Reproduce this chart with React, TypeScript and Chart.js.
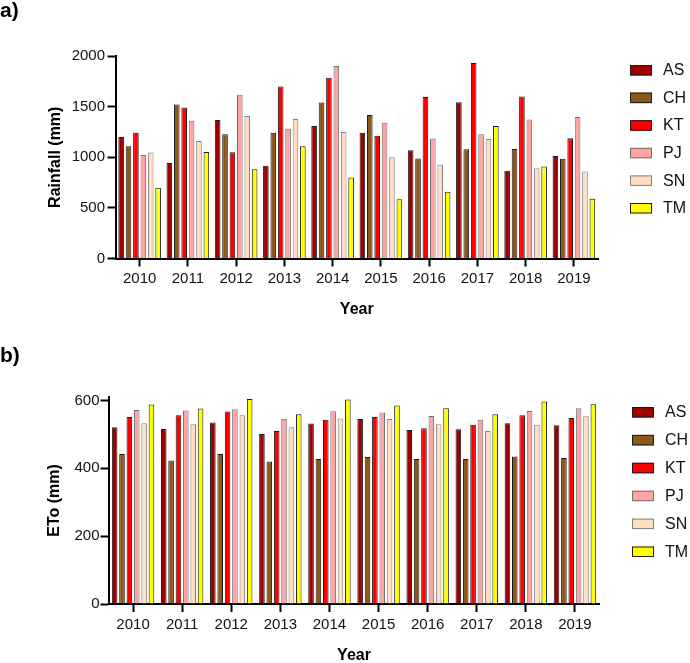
import React, { useEffect, useRef } from "react";
import { Chart, registerables } from "chart.js";

Chart.register(...registerables);

const years = ["2010", "2011", "2012", "2013", "2014", "2015", "2016", "2017", "2018", "2019"];
const stations = ["AS", "CH", "KT", "PJ", "SN", "TM"];

const rainAS = [1200, 944, 1367, 915, 1308, 1243, 1069, 1544, 866, 1013];
const rainCH = [1108, 1521, 1226, 1243, 1541, 1417, 987, 1079, 1082, 984];
const rainKT = [1243, 1492, 1049, 1699, 1784, 1213, 1594, 1931, 1600, 1187];
const rainPJ = [1023, 1361, 1617, 1282, 1902, 1341, 1184, 1226, 1374, 1397];
const rainSN = [1046, 1161, 1407, 1377, 1249, 1000, 925, 1180, 892, 859];
const rainTM = [698, 1053, 882, 1108, 800, 584, 659, 1308, 908, 590];

const etoAS = [521, 516, 535, 501, 532, 545, 513, 515, 533, 527];
const etoCH = [442, 423, 442, 420, 427, 433, 427, 427, 435, 430];
const etoKT = [551, 556, 567, 510, 543, 551, 518, 528, 556, 548];
const etoPJ = [572, 570, 574, 546, 568, 564, 554, 543, 569, 577];
const etoSN = [533, 530, 556, 521, 547, 545, 530, 510, 528, 553];
const etoTM = [588, 576, 604, 559, 603, 585, 577, 559, 597, 589];

const rainTicks = [0, 500, 1000, 1500, 2000];
const etoTicks = [0, 200, 400, 600];

const fillColors = ["#9E0000", "#8B5A1B", "#FF0000", "#FFA3A3", "#FFDEC2", "#FFFF00"];
const edgeColors = ["#1a1a1a", "#1a1a1a", "#1a1a1a", "#707070", "#808080", "#1a1a1a"];

const FONT = "'Liberation Sans', Arial, Helvetica, sans-serif";

const customLegend = {
  id: "customLegend",
  afterDraw(chart: any, _args: any, opts: any) {
    const ctx = chart.ctx;
    ctx.save();
    ctx.font = `${opts.fontSize}px ${FONT}`;
    ctx.textBaseline = "middle";
    ctx.textAlign = "left";
    chart.data.datasets.forEach((ds: any, i: number) => {
      const y = opts.top + i * opts.step;
      ctx.fillStyle = ds.backgroundColor;
      ctx.fillRect(opts.x, y, opts.boxW, opts.boxH);
      ctx.lineWidth = 1;
      ctx.strokeStyle = ds.borderColor;
      ctx.strokeRect(opts.x + 0.5, y + 0.5, opts.boxW - 1, opts.boxH - 1);
      ctx.fillStyle = "#111";
      ctx.fillText(ds.label, opts.textX, y + opts.boxH / 2 + 0.5);
    });
    ctx.restore();
  },
};

function makeConfig(p: any) {
  return {
    type: "bar",
    data: {
      labels: years,
      datasets: p.series.map((vals: number[], i: number) => ({
        label: stations[i],
        data: vals,
        backgroundColor: fillColors[i],
        borderColor: edgeColors[i],
        borderWidth: 1,
        borderSkipped: "start",
        categoryPercentage: p.catPct,
        barPercentage: p.barPct,
      })),
    },
    options: {
      responsive: false,
      animation: false,
      devicePixelRatio: 1,
      layout: { padding: { left: 0, top: 0, right: p.padRight, bottom: 0 } },
      plugins: {
        legend: { display: false },
        tooltip: { enabled: false },
        title: {
          display: true,
          text: p.panel,
          align: "start",
          color: "#000",
          font: { family: FONT, size: 21, weight: "bold", lineHeight: 1.1 },
          padding: { top: p.titleTop, bottom: p.titleBottom },
        },
        customLegend: p.legend,
      },
      scales: {
        x: {
          type: "category",
          offset: true,
          afterFit: (s: any) => {
            s.height = p.xHeight;
          },
          border: { display: true, color: "#000", width: 2 },
          grid: {
            display: true,
            offset: false,
            drawOnChartArea: false,
            drawTicks: true,
            tickLength: p.tickLen,
            tickColor: "#000",
            tickWidth: 2,
          },
          ticks: {
            color: "#111",
            padding: p.xTickPad,
            maxRotation: 0,
            autoSkip: false,
            font: { family: FONT, size: 15 },
          },
          title: {
            display: true,
            text: "Year",
            color: "#000",
            font: { family: FONT, size: 16, weight: "bold", lineHeight: 1.2 },
            padding: { top: 0, bottom: p.xTitleBottom },
          },
        },
        y: {
          min: 0,
          max: p.yMax,
          afterFit: (s: any) => {
            s.width = p.yWidth;
          },
          afterBuildTicks: (s: any) => {
            s.ticks = p.yTicks.map((v: number) => ({ value: v }));
          },
          border: { display: true, color: "#000", width: 2 },
          grid: {
            display: true,
            drawOnChartArea: false,
            drawTicks: true,
            tickLength: p.tickLen,
            tickColor: "#000",
            tickWidth: 2,
          },
          ticks: {
            color: "#111",
            padding: p.yTickPad,
            font: { family: FONT, size: 15 },
            callback: (v: any) => String(v),
          },
          title: {
            display: true,
            text: p.yTitle,
            color: "#000",
            font: { family: FONT, size: 16, weight: "bold", lineHeight: 1.2 },
            padding: { top: p.yTitleTop, bottom: 0 },
          },
        },
      },
    },
    plugins: [customLegend],
  };
}

export default function App() {
  const refA = useRef<HTMLCanvasElement | null>(null);
  const refB = useRef<HTMLCanvasElement | null>(null);

  useEffect(() => {
    Chart.defaults.font.family = FONT;
    const chartA = new Chart(
      refA.current as HTMLCanvasElement,
      makeConfig({
        panel: "a)",
        series: [rainAS, rainCH, rainKT, rainPJ, rainSN, rainTM],
        catPct: 0.92,
        barPct: 0.76,
        padRight: 92,
        titleTop: 0,
        titleBottom: 32.9,
        xHeight: 71.5,
        tickLen: 8,
        xTickPad: 3.5,
        xTitleBottom: 10.9,
        yMax: 2000,
        yTicks: rainTicks,
        yWidth: 115.5,
        yTickPad: 2.5,
        yTitle: "Rainfall (mm)",
        yTitleTop: 45.9,
        legend: { x: 630, top: 65, step: 27.6, boxW: 22, boxH: 10.5, textX: 663, fontSize: 16 },
      }) as any
    );
    const chartB = new Chart(
      refB.current as HTMLCanvasElement,
      makeConfig({
        panel: "b)",
        series: [etoAS, etoCH, etoKT, etoPJ, etoSN, etoTM],
        catPct: 0.9,
        barPct: 0.76,
        padRight: 90.5,
        titleTop: 14.5,
        titleBottom: 29.4,
        xHeight: 66,
        tickLen: 8,
        xTickPad: 4,
        xTitleBottom: 4.4,
        yMax: 610,
        yTicks: etoTicks,
        yWidth: 108.5,
        yTickPad: 1,
        yTitle: "ETo (mm)",
        yTitleTop: 45.4,
        legend: { x: 632, top: 77, step: 27.9, boxW: 22, boxH: 10.5, textX: 665, fontSize: 16 },
      }) as any
    );
    return () => {
      chartA.destroy();
      chartB.destroy();
    };
  }, []);

  return (
    <div
      style={{
        position: "fixed",
        left: 0,
        top: 0,
        width: 690,
        height: 663,
        overflow: "hidden",
        background: "#fff",
      }}
    >
      <canvas
        ref={refA}
        width={690}
        height={330}
        style={{ position: "absolute", left: 0, top: 0, width: 690, height: 330 }}
      />
      <canvas
        ref={refB}
        width={690}
        height={340}
        style={{ position: "absolute", left: 0, top: 330, width: 690, height: 340 }}
      />
    </div>
  );
}
